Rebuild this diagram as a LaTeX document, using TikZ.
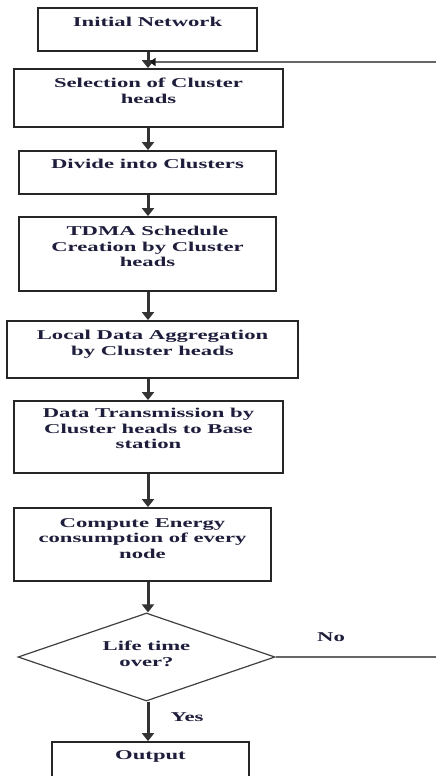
\documentclass[tikz,border=0pt]{standalone}
\usepackage{fontspec}
\setmainfont[FakeStretch=1.68]{Liberation Serif}
\usetikzlibrary{arrows.meta,shapes.geometric}
\definecolor{inkblue}{HTML}{1E1E3C}
\begin{document}
\begin{tikzpicture}[x=1pt,y=-1pt,
  box/.style={draw=black!85, line width=1.8pt, rectangle, inner sep=0pt},
  txt/.style={anchor=north, align=center, inner sep=0pt, text=inkblue,
    font=\fontsize{13.5}{15.5}\selectfont\bfseries},
  lbl/.style={inner sep=0pt, text=inkblue, font=\fontsize{13.5}{15.5}\selectfont\bfseries},
  arr/.style={draw=black!80, line width=3pt, -{Triangle[length=8pt,width=12pt]}},
  fb/.style={draw=black!60, line width=1.5pt},
  fbarr/.style={draw=black!60, line width=1.5pt, -{Triangle[length=6pt,width=8pt,color=black!90]}}]
\useasboundingbox (0,0) rectangle (436,776);
\fill[white] (0,0) rectangle (436,776);
\coordinate (m) at (148,0);
% boxes
\node[box, minimum width=219pt, minimum height=43pt] (b1) at (147.5,29.5) {};
\node[box, minimum width=269pt, minimum height=58pt] (b2) at (148.5,98) {};
\node[box, minimum width=257pt, minimum height=43pt] (b3) at (147.5,172.5) {};
\node[box, minimum width=257pt, minimum height=74pt] (b4) at (147.5,254) {};
\node[box, minimum width=291pt, minimum height=57pt] (b5) at (152.5,349.5) {};
\node[box, minimum width=269pt, minimum height=72pt] (b6) at (148.5,437) {};
\node[box, minimum width=257pt, minimum height=73pt] (b7) at (142.5,544.5) {};
\node[draw=black!75, line width=1.2pt, diamond, inner sep=0pt,
  minimum width=257pt, minimum height=88pt] (d) at (146.5,657) {};
\node[box, minimum width=197pt, minimum height=70pt] (b8) at (150.5,777) {};
% texts
\node[txt] (t1) at (147.5,17) {Initial Network};
\node[txt] (t2) at (148.5,78) {Selection of Cluster\\heads};
\node[txt] (t3) at (147.5,159) {Divide into Clusters};
\node[txt] (t4) at (147.5,226) {TDMA Schedule\\Creation by Cluster\\heads};
\node[txt] (t5) at (152.5,330) {Local Data Aggregation\\by Cluster heads};
\node[txt] (t6) at (148.5,408) {Data Transmission by\\Cluster heads to Base\\station};
\node[txt] (t7) at (142.5,518) {Compute Energy\\consumption of every\\node};
\node[txt] (td) at (146.5,641) {Life time\\over?};
\node[txt] (t8) at (150.5,750) {Output};
\node[lbl] (no) at (331,637) {No};
\node[lbl] (yes) at (187,717) {Yes};
% arrows
\draw[arr] (b1.south -| m) -- (b2.north -| m);
\draw[arr] (b2.south -| m) -- (b3.north -| m);
\draw[arr] (b3.south -| m) -- (b4.north -| m);
\draw[arr] (b4.south -| m) -- (b5.north -| m);
\draw[arr] (b5.south -| m) -- (b6.north -| m);
\draw[arr] (b6.south -| m) -- (b7.north -| m);
\draw[arr] (b7.south -| m) -- (d.north -| m);
\draw[arr] (d.south -| m) -- (b8.north -| m);
% feedback
\coordinate (fr) at (438,657);
\coordinate (fu) at (438,62);
\coordinate (fe) at (149.5,62);
\draw[fb] (d.east) -- (fr) -- (fu) -- (fe);
\draw[fbarr] (fu) -- (fe);
\end{tikzpicture}
\end{document}
